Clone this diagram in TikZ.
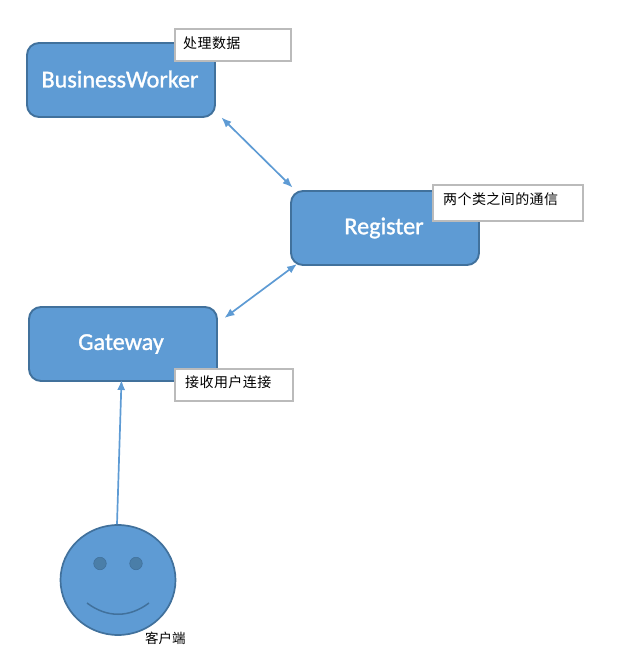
\documentclass[tikz,border=0pt]{standalone}
\usepackage{fontspec}
\setmainfont{Carlito}
\newfontfamily\cjk{Noto Sans CJK SC}
\usetikzlibrary{arrows.meta,calc,shapes.geometric}
\definecolor{fillblue}{HTML}{5E9BD4}
\definecolor{edgeblue}{HTML}{41719C}
\definecolor{eyeblue}{HTML}{4A7EA8}
\definecolor{notegray}{HTML}{BBBBBB}
\newfontfamily\boxfont{Carlito}[FakeBold=1.2]
\tikzset{
  x=1pt,y=-1pt,
  server/.style={draw=edgeblue,line width=1.9pt,fill=fillblue,rounded corners=12pt,
    minimum width=188pt,minimum height=74pt,inner sep=0pt,text=white,
    font=\boxfont\fontsize{24.2}{28}\selectfont},
  note/.style={draw=notegray,line width=1.7pt,fill=white,anchor=center,inner sep=0pt},
  notetext/.style={anchor=west,inner sep=0pt,font=\cjk\fontsize{14}{17}\selectfont,text=black},
  link/.style={draw=fillblue,line width=1.7pt,{Latex[length=10pt,width=8pt]}-{Latex[length=10pt,width=8pt]}},
  uplink/.style={draw=fillblue,line width=1.7pt,-{Latex[length=10pt,width=8pt]}},
  eye/.style={circle,draw=edgeblue,fill=eyeblue,line width=.6pt,minimum size=12.5pt,inner sep=0pt},
}
\begin{document}
\begin{tikzpicture}
\useasboundingbox (0,0) rectangle (630,658);
\node[server] (bw) at (121,80) {\hspace*{-2pt}\raisebox{2pt}{BusinessWorker}};
\node[server] (reg) at (385,228) {\hspace*{-2pt}\raisebox{-1pt}{Register}};
\node[server] (gw) at (123,344) {\hspace*{-4pt}\raisebox{-2pt}{Gateway}};
\node[draw=edgeblue,line width=1.7pt,fill=fillblue,ellipse,minimum width=115pt,minimum height=110pt,inner sep=0pt] (face) at (118,580) {};
\node[eye] (eyeL) at (100,563.5) {};
\node[eye] (eyeR) at (136,563.5) {};
\coordinate (smileL) at (87,603);
\coordinate (smileR) at (149,603);
\draw[edgeblue,line width=1.5pt] (smileL) .. controls (107,618) and (129,618) .. (smileR);
\draw[link] ([shift={(5.5,-0.5)}]bw.south east) -- ([shift={(2.5,-2.5)}]reg.north west);
\draw[link] ([shift={(7,-2)}]reg.south west) -- ([shift={(6.5,-64)}]gw.south east);
\draw[uplink] ([xshift=-1pt]face.north) -- ([shift={(-1.5,-2)}]gw.south);
\node[note,minimum width=116pt,minimum height=32pt] (n1) at (233,45) {};
\node[note,minimum width=150pt,minimum height=36pt] (n2) at (508,203) {};
\node[note,minimum width=118pt,minimum height=32pt] (n3) at (234,385) {};
\node[notetext] (t1) at (183,43.5) {\addfontfeature{LetterSpace=3}处理数据};
\node[notetext] (t2) at (443,199.5) {\addfontfeature{LetterSpace=3}两个类之间的通信};
\node[notetext] (t3) at (185,382.5) {\addfontfeature{LetterSpace=3}接收用户连接};
\node[notetext,font=\cjk\fontsize{13.5}{16}\selectfont] (t4) at (145,638) {客户端};
\end{tikzpicture}
\end{document}
